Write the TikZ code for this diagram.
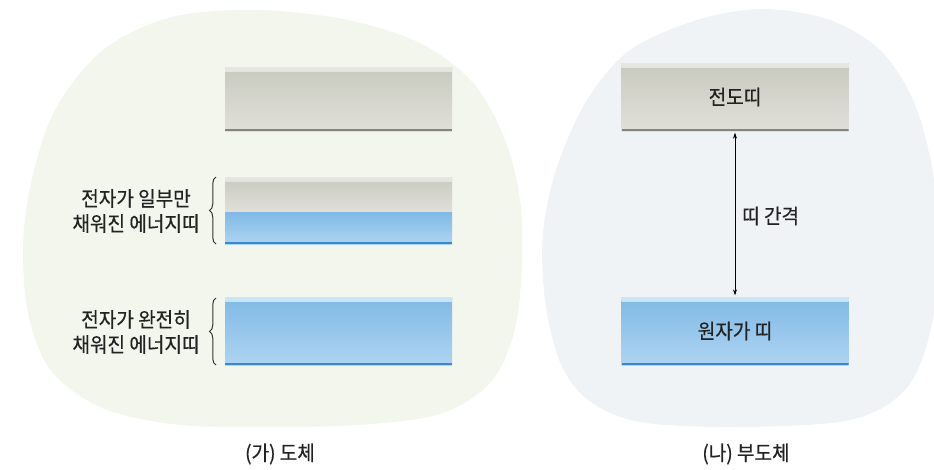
\documentclass[tikz,border=0pt]{standalone}
\usepackage{fontspec}
\newfontfamily\kr[FakeStretch=0.93,FakeBold=0.4]{Noto Sans CJK KR}
\usetikzlibrary{arrows.meta,decorations.pathreplacing}
\definecolor{blobL}{HTML}{F2F6EC}
\definecolor{blobR}{HTML}{EFF3F6}
\definecolor{grayT}{HTML}{C8C9BE}
\definecolor{grayB}{HTML}{E0E0D9}
\definecolor{grayS}{HTML}{E6E6E2}
\definecolor{grayL}{HTML}{85857F}
\definecolor{blueT}{HTML}{80B9E5}
\definecolor{blueB}{HTML}{AED4F2}
\definecolor{blueS}{HTML}{CBE6F8}
\definecolor{blueL}{HTML}{3A88CF}
\definecolor{txt}{HTML}{222222}
\definecolor{braceC}{HTML}{333333}
\newcommand\bandstrip[2]{\shade[top color=#1,bottom color=#2] (path picture bounding box.north west) rectangle ([yshift=-4pt]path picture bounding box.north east);}
\newcommand\bandline[1]{\fill[#1] (path picture bounding box.south west) rectangle ([yshift=1.8pt]path picture bounding box.south east);}
\begin{document}
\begin{tikzpicture}[x=1pt,y=-1pt,
  lbl/.style={font=\kr\fontsize{20.5}{25}\selectfont, text=txt, inner sep=0pt, align=center},
  band/.style={rectangle, inner sep=0pt, minimum width=227pt, draw=none, font=\kr\fontsize{20.5}{25}\selectfont, text=txt},
  grayband/.style={band, top color=grayT, bottom color=grayB},
  blueband/.style={band, top color=blueT, bottom color=blueB},
  gband/.style={grayband, path picture={\bandstrip{grayS}{grayT}\bandline{grayL}}},
  gtop/.style={grayband, path picture={\bandstrip{grayS}{grayT}}},
  bbot/.style={blueband, path picture={\bandline{blueL}}},
  bband/.style={blueband, path picture={\bandstrip{blueS}{blueT}\bandline{blueL}}},
  bracepath/.style={draw=braceC, line width=1pt, decorate, decoration={brace, amplitude=6.5pt, aspect=0.5}},
  gaparrow/.style={draw=black, line width=0.8pt, {Stealth[length=6pt,width=4pt]}-{Stealth[length=6pt,width=4pt]}, shorten <=1.5pt, shorten >=1.5pt}
]
\useasboundingbox (0,0) rectangle (934,469);
% blobs
\fill[blobL] plot[smooth cycle, tension=0.55] coordinates {(258,10) (348,20) (422,44) (474,84) (505,140) (520,200) (522,267) (514,333) (490,383) (440,414) (357,425) (250,427) (172,424) (102,408) (52,372) (29,318) (23,250) (31,183) (55,110) (103,50) (172,17)};
\fill[blobR] plot[smooth cycle, tension=0.55] coordinates {(763,9) (830,20) (880,50) (913,100) (932,167) (940,250) (930,333) (905,390) (850,420) (740,427) (640,422) (588,400) (560,362) (545,300) (543,233) (557,167) (587,100) (630,50) (697,20)};
% left: conductor
\node[gband, minimum height=64pt] (lc) at (338.5,99) {};
\node[gtop, minimum height=35pt] (lpg) at (338.5,194.5) {};
\node[bbot, minimum height=32pt] (lpb) at (338.5,228) {};
\node[bband, minimum height=68pt] (lf) at (338.5,331) {};
\coordinate (b1a) at (216,244);
\coordinate (b1b) at (216,177);
\coordinate (b2a) at (216,365);
\coordinate (b2b) at (216,298);
\draw[bracepath] (b1a) -- (b1b);
\draw[bracepath] (b2a) -- (b2b);
\node[lbl] (t1) at (136,211) {전자가 일부만\\채워진 에너지띠};
\node[lbl] (t2) at (136,332) {전자가 완전히\\채워진 에너지띠};
\node[lbl] (cap1) at (280,454) {(가) 도체};
% right: insulator
\node[gband, minimum height=68pt] (cb) at (735,97) {전도띠};
\node[bband, minimum height=68pt] (vb) at (735,331) {원자가 띠};
\draw[gaparrow] (cb.south) -- (vb.north);
\node[lbl, anchor=west] (gap) at (742,216) {띠 간격};
\node[lbl] (cap2) at (746,454) {(나) 부도체};
\end{tikzpicture}
\end{document}
